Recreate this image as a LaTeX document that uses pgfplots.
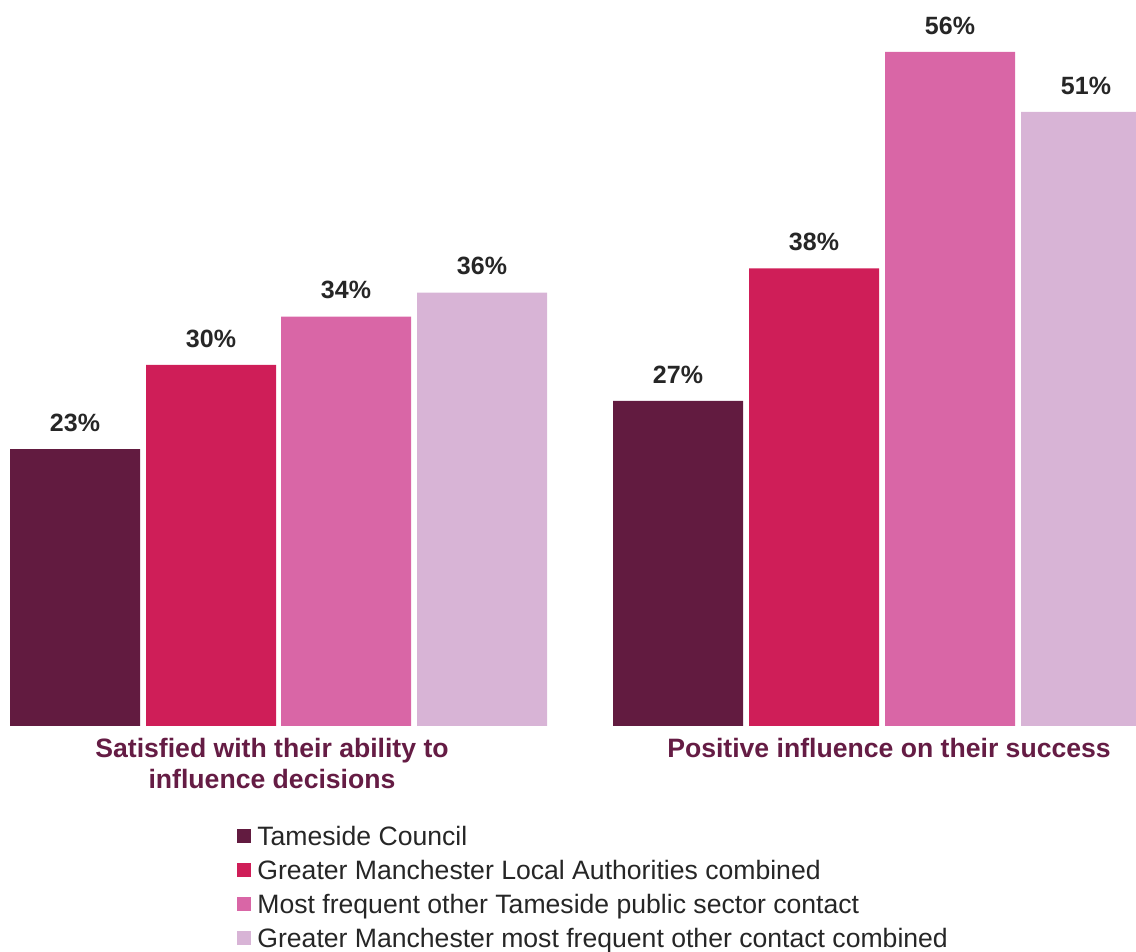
\documentclass[border=0pt]{standalone}
\usepackage{pgfplots}
\pgfplotsset{compat=1.18}
\usepackage{fontspec}
\setmainfont{Liberation Sans}
\definecolor{cA}{HTML}{621B40}
\definecolor{cB}{HTML}{CF1E58}
\definecolor{cC}{HTML}{D966A6}
\definecolor{cD}{HTML}{D8B4D6}
\definecolor{txt}{HTML}{262626}
\definecolor{cat}{HTML}{651C44}
\begin{document}
\begin{tikzpicture}
\path[use as bounding box] (0,-113pt) rectangle (568pt,363pt);
\begin{axis}[
  scale only axis,
  width=568pt, height=363pt,
  xmin=0, xmax=1136, ymin=0, ymax=60.3,
  ybar, bar width=65pt, bar shift=0pt,
  axis line style={draw=none},
  major tick length=0pt,
  ytick=\empty,
  xtick={272,889},
  xticklabels={{Satisfied with their ability to\\influence decisions},{Positive influence on their success}},
  xticklabel style={inner sep=0pt, yshift=-6pt, align=center, text=cat,
    font=\bfseries\fontsize{13.3}{15.5}\selectfont},
  nodes near coords={\pgfmathprintnumber[assume math mode=true]{\pgfplotspointmeta}\%},
  every node near coord/.append style={font=\bfseries\fontsize{12.5}{14}\selectfont, text=txt, anchor=south, inner sep=0pt, yshift=8.5pt},
  legend style={at={(axis description cs:0.2086,-0.138)}, anchor=north west, draw=none, fill=none,
    font=\fontsize{13.3}{15}\selectfont, text=txt, row sep=5.05pt, inner sep=0pt,
    nodes={inner sep=0pt, text height=9.5pt, text depth=2.5pt},
    /tikz/every odd column/.append style={column sep=3pt}},
  legend cell align=left,
  legend image code/.code={\fill[#1,draw=none] (0pt,-2.3pt) rectangle (7pt,4.7pt);},
]
\addplot[fill=cA, draw=none] coordinates {(75,23) (678,27)};
\addplot[fill=cB, draw=none] coordinates {(211,30) (814,38)};
\addplot[fill=cC, draw=none] coordinates {(346,34) (950,56)};
\addplot[fill=cD, draw=none] coordinates {(482,36) (1086,51)};
\addlegendentry{Tameside Council}
\addlegendentry{Greater Manchester Local Authorities combined}
\addlegendentry{Most frequent other Tameside public sector contact}
\addlegendentry{Greater Manchester most frequent other contact combined}
\end{axis}
\end{tikzpicture}
\end{document}
